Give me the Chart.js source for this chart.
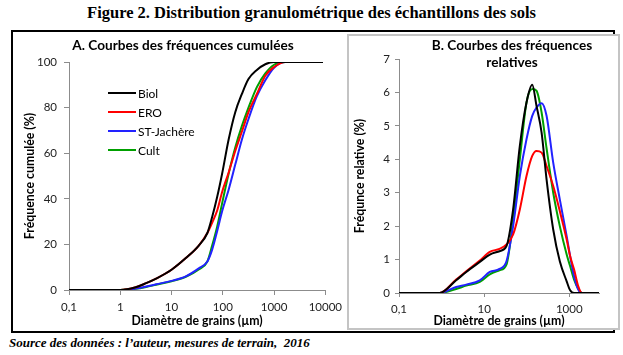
<!DOCTYPE html>
<html><head><meta charset="utf-8">
<script src="https://cdn.jsdelivr.net/npm/chart.js@4"></script>
<style>
body{margin:0;background:#fff;width:623px;height:355px;position:relative;overflow:hidden}
#title{position:absolute;left:0;top:3px;width:623px;text-align:center;font:bold 16.5px "Liberation Serif",serif;color:#000}
#frame{position:absolute;left:11px;top:30px;width:600px;height:299px;border:2px solid #000}
#boxA{position:absolute;left:13px;top:32px;width:334px;height:298px}
#boxB{position:absolute;left:347px;top:34px;width:269px;height:292px;border:2px solid #c4c4c4;background:#fff}
#source{position:absolute;left:9px;top:335px;font:italic bold 13px "Liberation Serif",serif;color:#000;white-space:pre}
canvas{display:block}
</style></head>
<body>
<div id="title">Figure 2. Distribution granulométrique des échantillons des sols</div>
<div id="frame"></div>
<div id="boxA"><canvas id="cA" width="334" height="298"></canvas></div>
<div id="boxB"><canvas id="cB" width="269" height="292"></canvas></div>
<div id="source">Source des données : l’auteur, mesures de terrain,  2016</div>
<script>
// ---- Panel A : cumulative frequencies ----
const sizesA = [0.1, 1, 2, 3.2, 5, 10, 19, 34, 50, 62, 78, 97, 130, 175, 236, 317, 462, 675, 1000, 1640, 3000, 9000];
const biolA  = [0, 0, 1.2, 3, 5, 8.9, 14, 19.5, 25, 32, 41, 51, 66, 78, 86, 92.5, 96.5, 99, 100, 100, 100, 100];
const eroA   = [0, 0, 1.2, 3, 5, 8.9, 14, 19.5, 25, 29.5, 35, 43, 51.5, 61, 69.5, 78, 86, 94, 97.8, 100, 100, 100];
const stA    = [0, 0, 0.6, 1.5, 2.5, 4, 6, 9.5, 12.5, 17.7, 26, 34.5, 44, 55, 66, 75, 85, 92, 97.5, 100, 100, 100];
const cultA  = [0, 0, 0.5, 1.3, 2.3, 3.8, 5.8, 9, 12.5, 19.5, 28, 38, 51, 62.5, 72, 80, 89, 95, 98.8, 100, 100, 100];
const ticksXA = [0.1, 1, 10, 100, 1000, 10000];

// ---- Panel B : relative frequencies ----
const sizesB = [0.1, 0.9, 2.2, 3.8, 7.9, 13.6, 23, 33.5, 48, 69, 99, 135, 170, 224, 293, 420, 600, 870, 1050, 1300, 1630, 2000, 5000];
const biolB  = [0, 0, 0.38, 0.63, 0.93, 1.15, 1.25, 1.4, 2.5, 4.4, 5.7, 6.23, 5.6, 4.8, 3.4, 1.9, 0.95, 0.35, 0.08, 0, 0, 0, 0];
const eroB   = [0, 0, 0.4, 0.65, 0.97, 1.23, 1.32, 1.45, 1.75, 2.5, 3.5, 4.1, 4.25, 4.2, 3.8, 3.2, 2.45, 1.6, 1.1, 0.7, 0.2, 0, 0];
const stB    = [0, 0, 0.18, 0.25, 0.38, 0.63, 0.72, 0.95, 2.0, 3.5, 4.6, 5.3, 5.55, 5.68, 5.3, 3.9, 2.8, 1.7, 1.1, 0.5, 0.1, 0, 0];
const cultB  = [0, 0, 0.12, 0.22, 0.33, 0.56, 0.68, 0.85, 2.2, 4.0, 5.7, 6.1, 6.05, 5.4, 4.33, 3.0, 2.0, 1.15, 0.8, 0.4, 0.12, 0, 0];
const ticksXB = [0.1, 10, 1000];

const seriesNames = ['Biol', 'ERO', 'ST-Jachère', 'Cult'];
const seriesColors = ['#000000', '#ff0000', '#2222ff', '#00a000'];

const FONT = 'Lato';
const AXIS = '#8c8c8c';
const TXT = '#222';

const pts = (xs, ys) => xs.map((x, i) => ({x: x, y: ys[i]}));
const mkSets = (xs, arrs) => arrs.map((a, i) => ({
  label: seriesNames[i], data: pts(xs, a), borderColor: seriesColors[i],
  borderWidth: 2, pointRadius: 0, fill: false, cubicInterpolationMode: 'monotone'
}));
const fmt = v => String(v).replace('.', ',');

const panelText = {
  id: 'panelText',
  afterDraw(chart, args, o) {
    const ctx = chart.ctx;
    ctx.save();
    ctx.fillStyle = '#000';
    ctx.textAlign = 'center';
    ctx.textBaseline = 'middle';
    ctx.font = o.titleFont;
    o.title.forEach((t, i) => ctx.fillText(t, o.titleX, o.titleY + i * o.titleLH));
    if (o.legend) {
      const L = o.legend;
      chart.data.datasets.forEach((ds, i) => {
        const y = L.y + i * L.dy;
        ctx.strokeStyle = ds.borderColor;
        ctx.lineWidth = 2;
        ctx.beginPath(); ctx.moveTo(L.x, y); ctx.lineTo(L.x + L.len, y); ctx.stroke();
        ctx.font = L.font; ctx.textAlign = 'left'; ctx.fillStyle = '#000';
        ctx.fillText(ds.label, L.x + L.len + 2, y + 1);
      });
    }
    ctx.restore();
  }
};

function makeChart(id, sets, xMin, xMax, xTicks, yMax, yStep, yTitle, yW, xH, pad, tk, ttl) {
  return new Chart(document.getElementById(id), {
    type: 'line',
    data: {datasets: sets},
    plugins: [panelText],
    options: {
      responsive: false, animation: false, devicePixelRatio: 1,
      layout: {padding: pad},
      plugins: {legend: {display: false}, tooltip: {enabled: false}, title: {display: false}, panelText: ttl},
      scales: {
        x: {
          type: 'logarithmic', min: xMin, max: xMax,
          afterBuildTicks: s => { s.ticks = xTicks.map(v => ({value: v})); },
          afterFit: s => { s.height = xH; },
          border: {display: true, color: AXIS, width: 1},
          grid: {display: true, drawOnChartArea: false, drawTicks: true, tickLength: tk.xLen, color: AXIS},
          ticks: {autoSkip: false, maxRotation: 0, padding: tk.xPad, color: TXT, font: {family: FONT, size: tk.fs}, callback: v => fmt(v)},
          title: {display: true, text: 'Diamètre de grains (µm)', color: '#000', font: {family: FONT, size: tk.ts, weight: 'bold'}, padding: {top: 0, bottom: tk.xtPad}}
        },
        y: {
          min: 0, max: yMax,
          afterFit: s => { s.width = yW; },
          border: {display: true, color: AXIS, width: 1},
          grid: {display: true, drawOnChartArea: false, drawTicks: true, tickLength: tk.yLen, color: AXIS},
          ticks: {stepSize: yStep, padding: tk.yPad, color: TXT, font: {family: FONT, size: tk.fs}},
          title: {display: true, text: yTitle, color: '#000', font: {family: FONT, size: tk.ts, weight: 'bold'}, padding: {top: tk.ytPad, bottom: 0}}
        }
      }
    }
  });
}

makeChart('cA', mkSets(sizesA, [biolA, eroA, stA, cultA]), 0.1, 10000, ticksXA, 100, 20,
  'Fréquence cumulée (%)', 56, 40, {top: 30, right: 20, left: 0, bottom: 0},
  {fs: 11.5, ts: 12.3, xLen: 5, xPad: 5, yLen: 5, yPad: 7, xtPad: 2, ytPad: 10},
  {title: ['A. Courbes des fréquences cumulées'], titleX: 170, titleY: 14, titleLH: 17, titleFont: 'bold 13.6px Lato',
   legend: {x: 95, len: 28, y: 61, dy: 19, font: '12px Lato'}});

makeChart('cB', mkSets(sizesB, [biolB, eroB, stB, cultB]), 0.1, 5000, ticksXB, 7, 1,
  'Fréqunce relative (%)', 50, 35, {top: 23, right: 19, left: 0, bottom: 0},
  {fs: 11.5, ts: 12.3, xLen: 4, xPad: 5, yLen: 4, yPad: 5, xtPad: 0, ytPad: 4},
  {title: ['B. Courbes des fréquences', 'relatives'], titleX: 163, titleY: 10, titleLH: 17, titleFont: 'bold 13.6px Lato'});
</script>
</body></html>
